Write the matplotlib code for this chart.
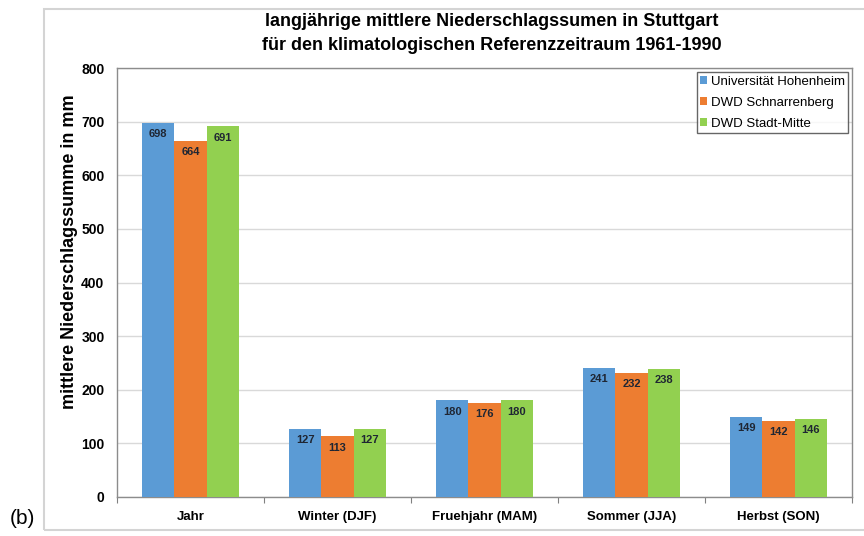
import matplotlib
matplotlib.use("Agg")
import matplotlib.pyplot as plt
import numpy as np
from matplotlib.patches import Rectangle

categories = ["Jahr", "Winter (DJF)", "Fruehjahr (MAM)", "Sommer (JJA)", "Herbst (SON)"]
series_names = ["Universität Hohenheim", "DWD Schnarrenberg", "DWD Stadt-Mitte"]
hohenheim = [698, 127, 180, 241, 149]
schnarrenberg = [664, 113, 176, 232, 142]
stadt_mitte = [691, 127, 180, 238, 146]
y_ticks = [0, 100, 200, 300, 400, 500, 600, 700, 800]

colors = ["#5B9BD5", "#ED7D31", "#92D050"]
values = [hohenheim, schnarrenberg, stadt_mitte]

plt.rcParams["font.family"] = ["Liberation Sans", "DejaVu Sans"]

fig = plt.figure(figsize=(8.64, 5.36), dpi=100)
fig.patch.set_facecolor("white")

# outer chart frame
fig.patches.append(Rectangle((44 / 864, 1 - 530 / 536), 1.0, (530 - 9) / 536,
                             transform=fig.transFigure, fill=False,
                             edgecolor="#D4D4D4", linewidth=1.5, zorder=0))

ax = fig.add_axes([117 / 864, 1 - 497 / 536, (852 - 117) / 864, (497 - 68) / 536])

x = np.arange(len(categories))
width = 0.22
offsets = [-width, 0, width]
for vals, off, col, name in zip(values, offsets, colors, series_names):
    bars = ax.bar(x + off, vals, width, color=col, label=name, zorder=3)
    for b, v in zip(bars, vals):
        ax.annotate(f"{v}", (b.get_x() + b.get_width() / 2, v),
                    xytext=(0, -8), textcoords="offset points",
                    ha="center", va="center", fontsize=8, fontweight="bold",
                    color="#1F2633", zorder=4)

ax.set_xlim(-0.5, len(categories) - 0.5)
ax.set_ylim(0, 800)
ax.set_yticks(y_ticks)
ax.set_yticklabels([str(t) for t in y_ticks], fontsize=10, fontweight="bold")
ax.yaxis.grid(True, color="#D9D9D9", linewidth=1, zorder=0)
ax.tick_params(axis="y", length=0, pad=9)

# category boundaries as major ticks, names as minor ticks
ax.set_xticks(np.arange(len(categories) + 1) - 0.5)
ax.set_xticklabels([])
ax.set_xticks(x, minor=True)
ax.set_xticklabels(categories, minor=True, fontsize=9.5, fontweight="bold")
ax.tick_params(axis="x", which="major", length=4, color="#808080", direction="out")
ax.tick_params(axis="x", which="minor", length=0, pad=10)

for s in ax.spines.values():
    s.set_color("#8C8C8C")
    s.set_linewidth(1)

fig.text(70 / 864, 1 - 252 / 536, "mittlere Niederschlagssumme in mm",
         rotation=90, ha="center", va="center", fontsize=13, fontweight="bold")

fig.text(492 / 864, 1 - 22 / 536, "langjährige mittlere Niederschlagssumen in Stuttgart",
         ha="center", va="center", fontsize=13, fontweight="bold")
fig.text(492 / 864, 1 - 45 / 536, "für den klimatologischen Referenzzeitraum 1961-1990",
         ha="center", va="center", fontsize=13, fontweight="bold")

leg = ax.legend(loc="upper right", bbox_to_anchor=(0.995, 0.99), borderaxespad=0,
                fontsize=9.5, frameon=True, fancybox=False, handlelength=0.5,
                handleheight=0.5, handletextpad=0.3, labelspacing=0.68, borderpad=0.25)
leg.get_frame().set_edgecolor("#404040")
leg.get_frame().set_linewidth(1)

fig.text(22 / 864, 1 - 519 / 536, "(b)", ha="center", va="center", fontsize=15)

fig.savefig("out.png", dpi=100)
